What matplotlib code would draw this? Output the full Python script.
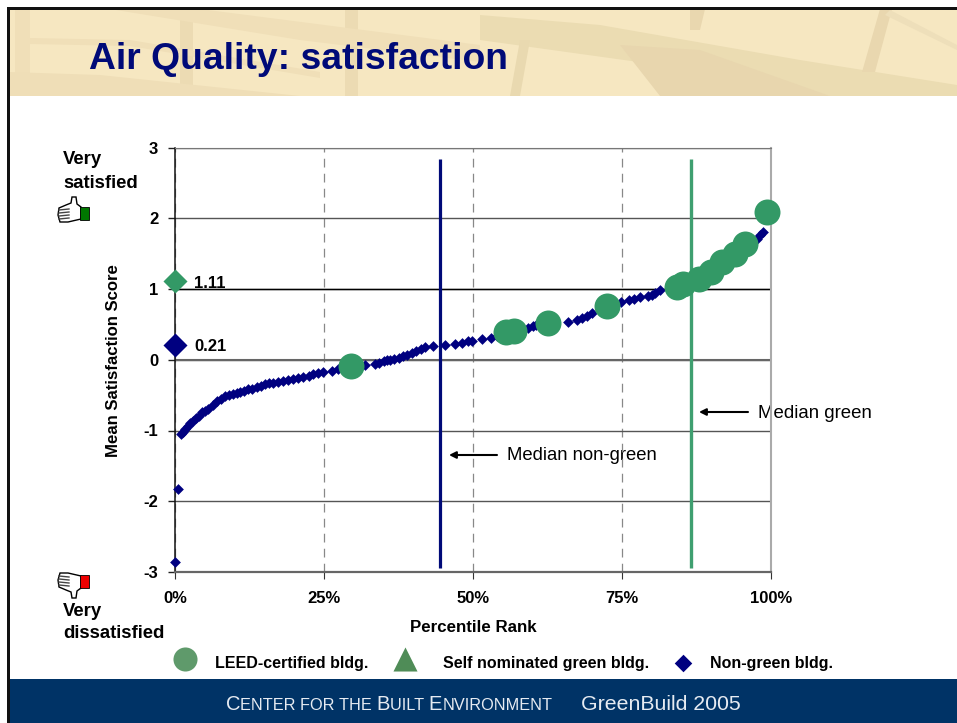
import matplotlib
matplotlib.use('Agg')
import matplotlib.pyplot as plt
from matplotlib.patches import Polygon, Rectangle

plt.rcParams['font.family'] = ['Liberation Sans', 'DejaVu Sans']

W, H = 957, 723
NAVY = '#000080'
GREEN = '#339966'

# values
nongreen_pct = [0.05, 0.5, 0.95, 1.3, 1.7, 2.1, 2.5, 3.0, 3.6, 4.1, 4.5, 5.1, 5.6, 6.3, 7.0, 7.7, 8.4, 9.1, 9.8,
                10.4, 10.9, 11.6, 12.3, 13.0, 13.7, 14.4, 15.1, 15.8, 16.5, 17.3, 18.2, 19.0, 19.8, 20.6, 21.5,
                22.4, 23.2, 24.0, 24.9, 26.3, 27.4, 31.9, 33.6, 34.3, 35.0, 35.6, 36.1, 36.8, 37.5, 38.2, 38.9,
                39.7, 40.5, 41.2, 41.9, 43.3, 45.3, 47.0, 48.1, 49.2, 49.8, 51.5, 53.0, 54.0, 59.3, 60.0, 60.5,
                65.9, 67.5, 68.3, 69.1, 70.0, 74.8, 76.1, 77.0, 78.0, 79.4, 80.0, 80.6, 81.3, 97.7, 98.2, 98.7]
nongreen_score = [-2.855, -1.82, -1.05, -1.02, -0.98, -0.93, -0.89, -0.86, -0.83, -0.79, -0.74, -0.72, -0.70, -0.64,
                  -0.58, -0.55, -0.515, -0.50, -0.49, -0.47, -0.455, -0.44, -0.42, -0.41, -0.39, -0.365, -0.345,
                  -0.335, -0.33, -0.315, -0.30, -0.285, -0.275, -0.26, -0.25, -0.225, -0.205, -0.19, -0.18, -0.165,
                  -0.135, -0.08, -0.06, -0.04, -0.02, -0.01, 0.0, 0.015, 0.03, 0.05, 0.07, 0.10, 0.13, 0.155, 0.18,
                  0.195, 0.205, 0.225, 0.24, 0.26, 0.27, 0.29, 0.31, 0.33, 0.45, 0.47, 0.49, 0.54, 0.56, 0.585,
                  0.615, 0.66, 0.82, 0.84, 0.865, 0.88, 0.90, 0.92, 0.95, 0.98, 1.70, 1.76, 1.805]
leed_pct = [29.6, 55.5, 56.9, 62.6, 72.4, 84.2, 85.3, 88.0, 90.0, 91.7, 94.0, 95.6, 99.3]
leed_score = [-0.09, 0.39, 0.41, 0.525, 0.755, 1.03, 1.075, 1.137, 1.24, 1.38, 1.49, 1.63, 2.09]
median_nongreen_pct = 44.5
median_green_pct = 86.5
median_nongreen_score = 0.21
median_green_score = 1.11
x_ticks = [0, 25, 50, 75, 100]
x_ticklabels = ['0%', '25%', '50%', '75%', '100%']
y_ticks = [-3, -2, -1, 0, 1, 2, 3]

fig = plt.figure(figsize=(W / 100, H / 100), dpi=100, facecolor='white')

# page furniture is drawn in pixel coordinates on a full size axes
bg = fig.add_axes([0, 0, 1, 1], zorder=0)
bg.set_xlim(0, W)
bg.set_ylim(H, 0)
bg.axis('off')

bg.add_patch(Rectangle((9, 9), W - 9, 87, color='#f6e7c1', lw=0))
#banner texture, just rough bands
bands = [
    ([(15, 9), (30, 9), (30, 96), (15, 96)], '#f0dfb8'),
    ([(180, 9), (193, 9), (193, 96), (180, 96)], '#ecdbb3'),
    ([(345, 9), (358, 9), (358, 96), (345, 96)], '#ecdbb3'),
    ([(110, 9), (200, 9), (480, 45), (480, 62), (300, 40)], '#f0dfb8'),
    ([(9, 72), (100, 75), (300, 96), (9, 96)], '#efdeb7'),
    ([(30, 38), (130, 40), (320, 72), (320, 78), (130, 46), (30, 44)], '#f0dfb8'),
    ([(480, 15), (600, 25), (800, 60), (957, 85), (957, 96), (830, 96), (660, 65), (480, 40)], '#ebdcb2'),
    ([(620, 45), (700, 50), (830, 96), (660, 96)], '#e8d6ae'),
    ([(690, 9), (705, 9), (700, 30), (690, 30)], '#e9d7af'),
    ([(880, 9), (892, 9), (875, 72), (862, 72)], '#e9d7af'),
    ([(672, 70), (685, 70), (680, 96), (670, 96)], '#e8d6ae'),
    ([(520, 40), (530, 40), (520, 96), (510, 96)], '#e9d9b0'),
    ([(890, 10), (957, 45), (957, 50), (885, 15)], '#eedfba'),
]
for pts, c in bands:
    bg.add_patch(Polygon(pts, closed=True, color=c, lw=0))
bg.add_patch(Rectangle((9, 679), W - 9, 44, color='#003366', lw=0))
bg.add_patch(Rectangle((7, 7), W - 7, 2.5, color='#111111', lw=0))
bg.add_patch(Rectangle((7, 7), 3, H - 7, color='#111111', lw=0))

bg.text(89, 69, 'Air Quality: satisfaction', fontsize=26.8, fontweight='bold', color='#000a78', va='baseline')

# footer, small caps done by hand
x = 226
renderer = fig.canvas.get_renderer()
for part, size in [('C', 14.5), ('ENTER FOR THE ', 11.7), ('B', 14.5), ('UILT ', 11.7), ('E', 14.5), ('NVIRONMENT', 11.7)]:
    t = bg.text(x, 710, part.replace(' ', '\u00a0'), fontsize=size, color='#e6ebf2', va='baseline')
    x += t.get_window_extent(renderer).width
bg.text(581, 710, 'GreenBuild 2005', fontsize=15.3, color='#e6ebf2', va='baseline')

bg.text(63, 160, 'Very', fontsize=13.3, fontweight='bold', va='center')
bg.text(63, 183, 'satisfied', fontsize=13.3, fontweight='bold', va='center')
bg.text(63, 612, 'Very', fontsize=13.3, fontweight='bold', va='center')
bg.text(63, 634, 'dissatisfied', fontsize=13.3, fontweight='bold', va='center')


def draw_thumb(y0, flip, cuff):
    #small hand icon, flip=-1 points it down
    s = flip
    hand = [(59, y0 + 1 * s), (66, y0 - 2 * s), (71, y0 - 4 * s), (72, y0 - 10 * s), (76, y0 - 10 * s),
            (77, y0 - 3 * s), (81, y0 + 0 * s), (81, y0 + 12 * s), (68, y0 + 15 * s), (60, y0 + 15 * s), (58, y0 + 8 * s)]
    bg.add_patch(Polygon(hand, closed=True, facecolor='white', edgecolor='black', lw=1))
    for k in range(4):
        bg.plot([59, 69], [y0 + (3 + 3 * k) * s, y0 + (2 + 3 * k) * s], color='#444444', lw=1)
    y1 = min(y0 + 0 * s, y0 + 13 * s)
    bg.add_patch(Rectangle((80, y1), 9, 13, facecolor=cuff, edgecolor='black', lw=0.6))


draw_thumb(207, 1, '#007700')
draw_thumb(588, -1, '#ee0000')

# legend is placed by hand like in the slide
bg.scatter([184.7], [659.3], s=300, marker='o', color='#5f9a6b', lw=0)
bg.scatter([404.5], [659], s=300, marker='^', color='#4f8c57', lw=0)
bg.scatter([682.7], [662.7], s=80, marker='D', color=NAVY, lw=0)
bg.text(215, 663.5, 'LEED-certified bldg.', fontsize=11.5, fontweight='bold', va='center')
bg.text(443, 663.5, 'Self nominated green bldg.', fontsize=11.5, fontweight='bold', va='center')
bg.text(710, 663.5, 'Non-green bldg.', fontsize=11.5, fontweight='bold', va='center')

bg.text(114, 361, 'Mean Satisfaction Score', fontsize=12.1, fontweight='bold', rotation=90, ha='center', va='center')
bg.text(473, 627.5, 'Percentile Rank', fontsize=12.2, fontweight='bold', ha='center', va='center')

bg.text(758, 413, 'Median green', fontsize=13.4, va='center')
bg.text(507, 456, 'Median non-green', fontsize=13.3, va='center')
bg.annotate('', xy=(699, 412), xytext=(748, 412), arrowprops=dict(arrowstyle='-|>', color='black', lw=1.5, shrinkA=0, shrinkB=0))
bg.annotate('', xy=(449, 455), xytext=(497, 455), arrowprops=dict(arrowstyle='-|>', color='black', lw=1.5, shrinkA=0, shrinkB=0))

# the chart
ax = fig.add_axes([175 / W, 1 - 572 / H, 596 / W, 424.5 / H], zorder=2)
ax.patch.set_alpha(0)
ax.set_xlim(0, 100)
ax.set_ylim(-3, 3)
ax.set_xticks(x_ticks)
ax.set_xticklabels(x_ticklabels, fontsize=12, fontweight='bold')
ax.set_yticks(y_ticks)
ax.set_yticklabels([str(v) for v in y_ticks], fontsize=12, fontweight='bold')
ax.tick_params(axis='x', length=5, width=0.8, pad=9, color='#333333')
ax.tick_params(axis='y', length=5, width=1, pad=7, color='#222222')
ax.set_axisbelow(True)
ax.grid(axis='x', color='#888888', lw=0.9, ls=(0, (7, 5)))
ax.grid(axis='y', color='#555555', lw=1)
ax.axhline(1, color='black', lw=1, zorder=1)
ax.axhline(0, color='#666666', lw=1.5, zorder=1)
ax.spines['top'].set_color('#777777')
ax.spines['left'].set_color('#111111')
ax.spines['left'].set_linewidth(1.1)
ax.spines['bottom'].set_color('#666666')
ax.spines['bottom'].set_linewidth(1.6)
ax.spines['right'].set_color('#aaaaaa')
ax.spines['right'].set_linewidth(1.5)

ax.plot([median_nongreen_pct] * 2, [-2.94, 2.84], color='#000a78', lw=2.3, solid_capstyle='butt', zorder=2)
ax.plot([median_green_pct] * 2, [-2.94, 2.84], color='#3f9f70', lw=2.4, solid_capstyle='butt', zorder=2)

ax.scatter(nongreen_pct, nongreen_score, s=30, marker='D', color=NAVY, lw=0, zorder=3, clip_on=False)
ax.scatter(leed_pct, leed_score, s=350, marker='o', color=GREEN, lw=0, zorder=4, clip_on=False)

ax.scatter([0], [median_green_score], s=150, marker='D', color=GREEN, lw=0, zorder=5, clip_on=False)
ax.scatter([0], [median_nongreen_score], s=150, marker='D', color=NAVY, lw=0, zorder=5, clip_on=False)
ax.annotate('1.11', (0, median_green_score), xytext=(19, -2), textcoords='offset pixels', fontsize=12, fontweight='bold', va='center', zorder=6)
ax.annotate('0.21', (0, median_nongreen_score), xytext=(19, -2), textcoords='offset pixels', fontsize=12, fontweight='bold', va='center', zorder=6)

fig.savefig('out.png', dpi=100)
